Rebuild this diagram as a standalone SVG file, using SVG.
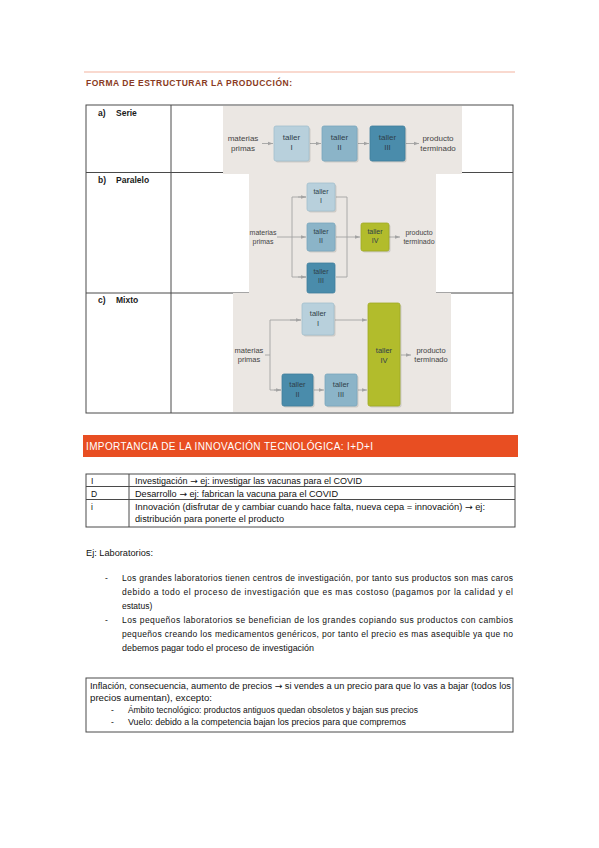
<svg xmlns="http://www.w3.org/2000/svg" width="599" height="848" viewBox="0 0 599 848">
<defs>
<style>
.body{font-family:"Liberation Sans",Arial,sans-serif;font-size:8.5px;fill:#111111}
.bold{font-family:"Liberation Sans",Arial,sans-serif;font-size:8.5px;font-weight:bold;fill:#1a1a1a}
.arr{font-family:"DejaVu Sans",sans-serif}
.tbl{fill:none;stroke:#4a4a4a;stroke-width:1}
.dg{font-family:"Liberation Sans",Arial,sans-serif;fill:#444444;text-anchor:middle}
.bx{font-family:"Liberation Sans",Arial,sans-serif;fill:#2f3f4a;text-anchor:middle}
.conn{fill:none;stroke:#a3a3a3;stroke-width:0.9}
.bg{fill:#ebe7e3}
.light{fill:#b8d0dc;stroke:#a2bfcd;stroke-width:0.8}
.med{fill:#8bb4c8;stroke:#79a6bc;stroke-width:0.8}
.dark{fill:#4a8cab;stroke:#3f7f9d;stroke-width:0.8}
.olive{fill:#b2bc2c;stroke:#a0aa25;stroke-width:0.8}
.shadow{fill:#000;opacity:0.12}
</style>
<marker id="ah" viewBox="0 0 6 6" refX="6" refY="3" markerWidth="5" markerHeight="5" orient="auto" markerUnits="userSpaceOnUse">
<path d="M0,0.8 L6,3 L0,5.2 z" fill="#a3a3a3"/>
</marker>
</defs>
<rect width="599" height="848" fill="#ffffff"/>

<!-- Header -->
<line x1="84" y1="72" x2="515" y2="72" stroke="#f4b4a0" stroke-width="1.2"/>
<text x="86" y="86" font-family="Liberation Sans, Arial, sans-serif" font-size="8.5" font-weight="bold" fill="#8a3b22" textLength="206" lengthAdjust="spacing">FORMA DE ESTRUCTURAR LA PRODUCCIÓN:</text>

<!-- Table 1 -->
<g id="table1">
<rect class="tbl" x="86" y="105" width="427" height="308"/>
<line class="tbl" x1="171" y1="105" x2="171" y2="413"/>
<line class="tbl" x1="86" y1="172.5" x2="513" y2="172.5"/>
<line class="tbl" x1="86" y1="293" x2="513" y2="293"/>
<text class="bold" x="98" y="116">a)</text><text class="bold" x="116" y="116">Serie</text>
<text class="bold" x="98" y="183">b)</text><text class="bold" x="116" y="183">Paralelo</text>
<text class="bold" x="98" y="303">c)</text><text class="bold" x="116" y="303">Mixto</text>
</g>

<!-- Image backgrounds -->
<rect class="bg" x="223" y="106" width="239" height="68"/>
<rect class="bg" x="249" y="172" width="187" height="121"/>
<rect class="bg" x="233" y="293" width="218" height="119"/>

<g id="connectors">
<line class="conn" x1="262" y1="143.5" x2="273" y2="143.5" marker-end="url(#ah)"/>
<line class="conn" x1="310" y1="143.5" x2="321" y2="143.5" marker-end="url(#ah)"/>
<line class="conn" x1="358" y1="143.5" x2="369" y2="143.5" marker-end="url(#ah)"/>
<line class="conn" x1="406" y1="143.5" x2="419" y2="143.5" marker-end="url(#ah)"/>
<line class="conn" x1="277" y1="237" x2="306" y2="237" marker-end="url(#ah)"/>
<polyline class="conn" points="306,197 292,197 292,277 306,277"/>
<line class="conn" x1="298" y1="197" x2="306" y2="197" marker-end="url(#ah)"/>
<line class="conn" x1="298" y1="277" x2="306" y2="277" marker-end="url(#ah)"/>
<polyline class="conn" points="336,197 347,197 347,277 336,277"/>
<line class="conn" x1="336" y1="237" x2="360" y2="237" marker-end="url(#ah)"/>
<line class="conn" x1="389" y1="237" x2="400" y2="237" marker-end="url(#ah)"/>
<line class="conn" x1="265" y1="355" x2="270" y2="355"/>
<polyline class="conn" points="301,320 270,320 270,390 281,390"/>
<line class="conn" x1="290" y1="320" x2="301" y2="320" marker-end="url(#ah)"/>
<line class="conn" x1="274" y1="390" x2="281" y2="390" marker-end="url(#ah)"/>
<line class="conn" x1="335" y1="320" x2="367" y2="320" marker-end="url(#ah)"/>
<line class="conn" x1="314" y1="390" x2="324" y2="390" marker-end="url(#ah)"/>
<line class="conn" x1="358" y1="390" x2="367" y2="390" marker-end="url(#ah)"/>
<line class="conn" x1="401" y1="355" x2="411" y2="355" marker-end="url(#ah)"/>
</g>

<g id="serie-input"><text class="dg" font-size="8" x="243" y="141">materias</text><text class="dg" font-size="8" x="243" y="151">primas</text></g>
<g id="serie-output"><text class="dg" font-size="8" x="438" y="141">producto</text><text class="dg" font-size="8" x="438" y="151">terminado</text></g>
<g id="serie-taller1"><rect class="shadow" x="275.5" y="127.5" width="35" height="35" rx="2"/><rect class="light" x="274" y="126" width="35" height="35" rx="2"/><text class="bx" font-size="8" x="291.5" y="140">taller</text><text class="bx" font-size="8" x="291.5" y="150">I</text></g>
<g id="serie-taller2"><rect class="shadow" x="323.5" y="127.5" width="35" height="35" rx="2"/><rect class="med" x="322" y="126" width="35" height="35" rx="2"/><text class="bx" font-size="8" x="339.5" y="140">taller</text><text class="bx" font-size="8" x="339.5" y="150">II</text></g>
<g id="serie-taller3"><rect class="shadow" x="371.5" y="127.5" width="35" height="35" rx="2"/><rect class="dark" x="370" y="126" width="35" height="35" rx="2"/><text class="bx" font-size="8" x="387.5" y="140">taller</text><text class="bx" font-size="8" x="387.5" y="150">III</text></g>

<g id="par-input"><text class="dg" font-size="7" x="263" y="235">materias</text><text class="dg" font-size="7" x="263" y="243.5">primas</text></g>
<g id="par-output"><text class="dg" font-size="7" x="419" y="235">producto</text><text class="dg" font-size="7" x="419" y="243.5">terminado</text></g>
<g id="par-taller1"><rect class="shadow" x="308.5" y="184.5" width="28" height="28" rx="2"/><rect class="light" x="307" y="183" width="28" height="28" rx="2"/><text class="bx" font-size="7" x="321" y="194">taller</text><text class="bx" font-size="7" x="321" y="203">I</text></g>
<g id="par-taller2"><rect class="shadow" x="308.5" y="224.5" width="28" height="28" rx="2"/><rect class="med" x="307" y="223" width="28" height="28" rx="2"/><text class="bx" font-size="7" x="321" y="234">taller</text><text class="bx" font-size="7" x="321" y="243">II</text></g>
<g id="par-taller3"><rect class="dark" x="307" y="263" width="28" height="30" rx="2"/><text class="bx" font-size="7" x="321" y="274">taller</text><text class="bx" font-size="7" x="321" y="283">III</text></g>
<g id="par-taller4"><rect class="shadow" x="362.5" y="224.5" width="28" height="28" rx="2"/><rect class="olive" x="361" y="223" width="28" height="28" rx="2"/><text class="bx" font-size="7" x="375" y="234">taller</text><text class="bx" font-size="7" x="375" y="243">IV</text></g>

<g id="mix-input"><text class="dg" font-size="7.5" x="249" y="353">materias</text><text class="dg" font-size="7.5" x="249" y="362">primas</text></g>
<g id="mix-output"><text class="dg" font-size="7.5" x="431" y="353">producto</text><text class="dg" font-size="7.5" x="431" y="362">terminado</text></g>
<g id="mix-taller1"><rect class="shadow" x="303.5" y="304.5" width="32" height="32" rx="2"/><rect class="light" x="302" y="303" width="32" height="32" rx="2"/><text class="bx" font-size="7.5" x="318" y="316">taller</text><text class="bx" font-size="7.5" x="318" y="326">I</text></g>
<g id="mix-taller2"><rect class="shadow" x="283.5" y="375.5" width="31" height="32" rx="2"/><rect class="dark" x="282" y="374" width="31" height="32" rx="2"/><text class="bx" font-size="7.5" x="297.5" y="387">taller</text><text class="bx" font-size="7.5" x="297.5" y="397">II</text></g>
<g id="mix-taller3"><rect class="shadow" x="326.5" y="375.5" width="32" height="32" rx="2"/><rect class="med" x="325" y="374" width="32" height="32" rx="2"/><text class="bx" font-size="7.5" x="341" y="387">taller</text><text class="bx" font-size="7.5" x="341" y="397">III</text></g>
<g id="mix-taller4"><rect class="shadow" x="369.5" y="304.5" width="32" height="103" rx="2"/><rect class="olive" x="368" y="303" width="32" height="103" rx="2"/><text class="bx" font-size="7.5" x="384" y="353">taller</text><text class="bx" font-size="7.5" x="384" y="363">IV</text></g>

<!-- Banner -->
<rect x="83" y="435" width="435" height="22" fill="#e84e22"/>
<text x="86" y="449.5" font-family="Liberation Sans, Arial, sans-serif" font-size="10" fill="#ffffff" textLength="287" lengthAdjust="spacing">IMPORTANCIA DE LA INNOVACIÓN TECNOLÓGICA: I+D+I</text>

<!-- Table 2 -->
<g id="table2">
<rect class="tbl" x="86" y="474" width="429" height="53"/>
<line class="tbl" x1="129" y1="474" x2="129" y2="527"/>
<line class="tbl" x1="86" y1="486.5" x2="515" y2="486.5"/>
<line class="tbl" x1="86" y1="499.5" x2="515" y2="499.5"/>
<text class="body" x="91" y="483.5">I</text>
<text class="body" x="135" y="483.5" textLength="227" lengthAdjust="spacingAndGlyphs">Investigación <tspan class="arr">→</tspan> ej: investigar las vacunas para el COVID</text>
<text class="body" x="91" y="496.5">D</text>
<text class="body" x="135" y="496.5" textLength="203" lengthAdjust="spacingAndGlyphs">Desarrollo <tspan class="arr">→</tspan> ej: fabrican la vacuna para el COVID</text>
<text class="body" x="91" y="509.5">i</text>
<text class="body" x="135" y="509.5" textLength="350" lengthAdjust="spacingAndGlyphs">Innovación (disfrutar de y cambiar cuando hace falta, nueva cepa = innovación) <tspan class="arr">→</tspan> ej:</text>
<text class="body" x="135" y="521.5" textLength="149" lengthAdjust="spacingAndGlyphs">distribución para ponerte el producto</text>
</g>

<!-- Ej laboratorios -->
<g id="labs">
<text class="body" x="86" y="556" textLength="67" lengthAdjust="spacingAndGlyphs">Ej: Laboratorios:</text>
<text class="body" x="105" y="581">-</text>
<text class="body" x="122" y="581" textLength="391" lengthAdjust="spacing">Los grandes laboratorios tienen centros de investigación, por tanto sus productos son mas caros</text>
<text class="body" x="122" y="595" textLength="391" lengthAdjust="spacing">debido a todo el proceso de investigación que es mas costoso (pagamos por la calidad y el</text>
<text class="body" x="122" y="609">estatus)</text>
<text class="body" x="105" y="623">-</text>
<text class="body" x="122" y="623" textLength="391" lengthAdjust="spacing">Los pequeños laboratorios se benefician de los grandes copiando sus productos con cambios</text>
<text class="body" x="122" y="637" textLength="391" lengthAdjust="spacing">pequeños creando los medicamentos genéricos, por tanto el precio es mas asequible ya que no</text>
<text class="body" x="122" y="651" textLength="192" lengthAdjust="spacingAndGlyphs">debemos pagar todo el proceso de investigación</text>
</g>

<!-- Box -->
<g id="box3">
<rect class="tbl" x="86" y="678" width="427" height="54"/>
<text class="body" x="90" y="689" textLength="421" lengthAdjust="spacingAndGlyphs">Inflación, consecuencia, aumento de precios <tspan class="arr">→</tspan> si vendes a un precio para que lo vas a bajar (todos los</text>
<text class="body" x="90" y="701" textLength="122" lengthAdjust="spacingAndGlyphs">precios aumentan), excepto:</text>
<text class="body" x="111" y="713">-</text>
<text class="body" x="128" y="713" textLength="290" lengthAdjust="spacingAndGlyphs">Ámbito tecnológico: productos antiguos quedan obsoletos y bajan sus precios</text>
<text class="body" x="111" y="725">-</text>
<text class="body" x="128" y="725" textLength="278" lengthAdjust="spacingAndGlyphs">Vuelo: debido a la competencia bajan los precios para que compremos</text>
</g>
</svg>
